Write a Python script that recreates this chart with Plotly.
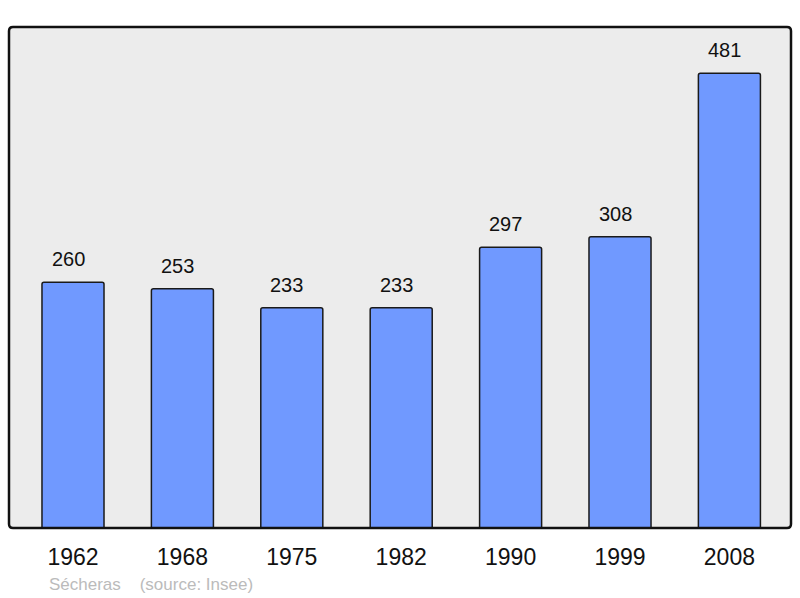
import plotly.graph_objects as go

years = ["1962", "1968", "1975", "1982", "1990", "1999", "2008"]
population = [260, 253, 233, 233, 297, 308, 481]

xpos = list(range(len(years)))
FONT = "Liberation Sans, Arial, sans-serif"

fig = go.Figure()
fig.add_trace(go.Bar(
    x=xpos, y=population, width=0.567,
    marker=dict(color="#7099ff", line=dict(color="#1a1a1a", width=1.5), cornerradius=2),
    hoverinfo="skip",
))

for i, v in enumerate(population):
    fig.add_annotation(x=xpos[i], y=v, text=str(v), showarrow=False,
                       yanchor="bottom", yshift=10, xshift=-5,
                       font=dict(family=FONT, size=20, color="#111"))

fig.add_annotation(xref="paper", yref="paper", x=(47-9)/782, y=-(584-528)/501,
                   xanchor="left", yanchor="middle", showarrow=False,
                   text="Sécheras&nbsp;&nbsp;&nbsp;&nbsp;(source: Insee)",
                   font=dict(family=FONT, size=17, color="#bbbbbb"))

# rounded border around the plot area
r = 4
W, H = 782.0, 501.0
rx, ry = r / W, r / H
path = (f"M {rx},0 L {1-rx},0 Q 1,0 1,{ry} L 1,{1-ry} Q 1,1 {1-rx},1 "
        f"L {rx},1 Q 0,1 0,{1-ry} L 0,{ry} Q 0,0 {rx},0 Z")
fig.add_shape(type="path", xref="paper", yref="paper", path=path,
              line=dict(color="#111", width=2.5), layer="above")

fig.update_layout(
    width=800, height=598,
    margin=dict(l=9, r=9, t=27, b=70),
    paper_bgcolor="white", plot_bgcolor="#ececec",
    showlegend=False,
    xaxis=dict(range=[-0.585, 6.563], tickmode="array", tickvals=xpos, ticktext=years,
               showgrid=False, zeroline=False, ticks="outside", ticklen=8, tickcolor="rgba(0,0,0,0)",
               tickfont=dict(family=FONT, size=23, color="#111")),
    yaxis=dict(range=[0, 530], showgrid=False, zeroline=False, showticklabels=False),
)

fig.write_html("out.html", config={"displayModeBar": False},
               post_script="document.body.style.margin='0';")
